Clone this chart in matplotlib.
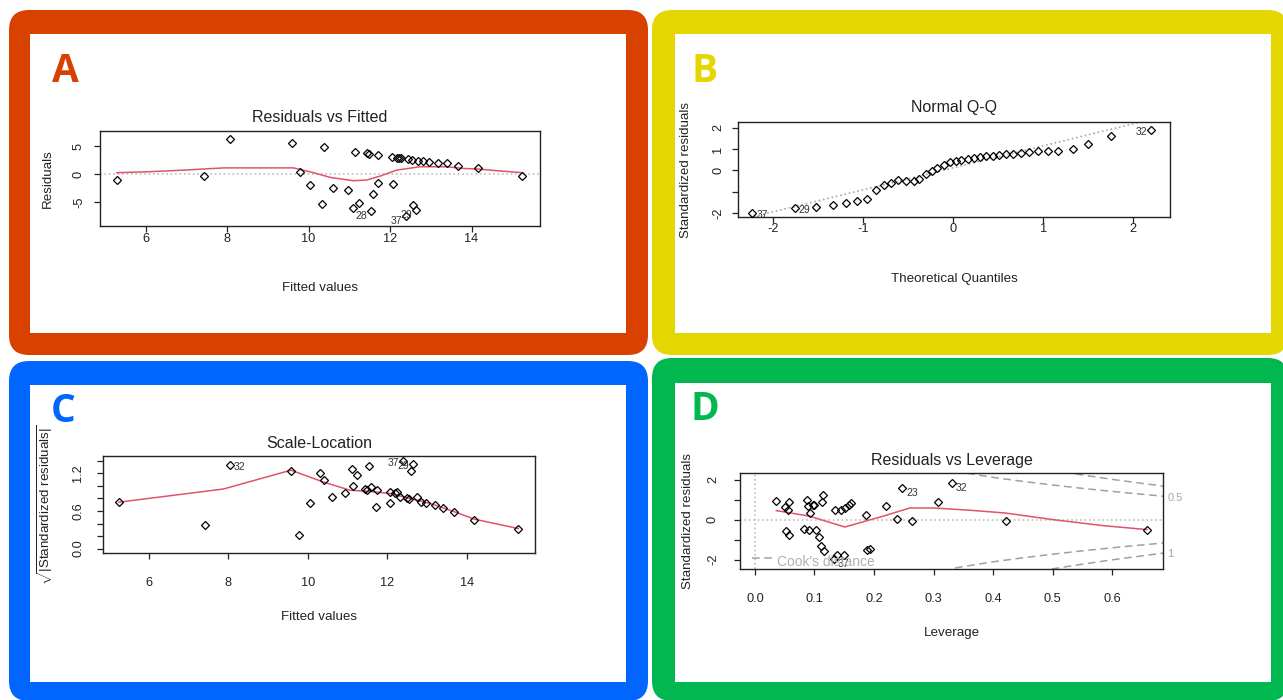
import matplotlib
matplotlib.use('Agg')
import matplotlib.pyplot as plt
from matplotlib import font_manager
from matplotlib.patches import FancyBboxPatch, Rectangle

W, H = 1283, 700

# ---- data ----
# A: Residuals vs Fitted
a_fitted = [5.29, 7.44, 8.06, 9.59, 9.80, 10.04, 10.33, 10.39, 10.61, 10.96, 11.10, 11.14,
            11.24, 11.44, 11.49, 11.53, 11.57, 11.71, 11.71, 12.04, 12.06, 12.16, 12.22,
            12.28, 12.45, 12.55, 12.69, 12.82, 12.96, 13.18, 13.39, 13.66, 14.16, 15.25,
            12.57, 12.63, 12.39]
a_resid = [-1.07, -0.36, 6.19, 5.60, 0.30, -1.90, -5.36, 4.76, -2.50, -2.86, -6.13, 3.99,
           -5.12, 3.81, 3.57, -6.55, -3.51, 3.39, -1.67, 2.98, -1.85, 2.95, 2.90,
           2.80, 2.68, 2.50, 2.38, 2.38, 2.20, 2.02, 1.90, 1.43, 1.00, -0.36,
           -5.54, -6.40, -7.44]
a_smooth_x = [5.29, 6.04, 6.94, 7.92, 9.63, 10.12, 10.53, 11.10, 11.43, 11.76, 12.16,
              12.73, 13.39, 13.80, 14.16, 14.61, 15.25]
a_smooth_y = [0.24, 0.40, 0.70, 1.10, 1.10, 0.24, -0.60, -1.20, -1.07, -0.36, 0.70,
              1.30, 1.30, 1.00, 0.90, 0.60, 0.24]
a_ids = ['28', '29', '37']
a_id_x = [11.53, 12.63, 12.39]
a_id_y = [-6.55, -6.40, -7.44]

# B: Normal Q-Q
b_theo = [-2.23, -1.76, -1.52, -1.33, -1.19, -1.07, -0.96, -0.86, -0.77, -0.69, -0.61,
          -0.52, -0.44, -0.38, -0.30, -0.24, -0.18, -0.10, -0.04, 0.03, 0.09, 0.16,
          0.23, 0.30, 0.37, 0.44, 0.51, 0.59, 0.67, 0.75, 0.84, 0.94, 1.05, 1.17,
          1.33, 1.50, 1.75, 2.20]
b_std = [-2.00, -1.77, -1.72, -1.61, -1.52, -1.45, -1.33, -0.91, -0.70, -0.59, -0.47,
         -0.50, -0.50, -0.39, -0.16, -0.03, 0.09, 0.23, 0.38, 0.44, 0.50, 0.55,
         0.59, 0.64, 0.66, 0.69, 0.70, 0.75, 0.78, 0.81, 0.86, 0.92, 0.91, 0.92,
         1.02, 1.25, 1.61, 1.88]
b_line_x = [-2.40, 2.45]
b_line_y = [-2.36, 2.65]
b_ids = ['37', '29', '32']
b_id_x = [-2.23, -1.76, 2.20]
b_id_y = [-2.00, -1.77, 1.88]

# C: Scale-Location
c_fitted = [5.25, 7.42, 8.04, 9.58, 9.79, 10.05, 10.31, 10.40, 10.61, 10.94, 11.11, 11.15,
            11.25, 11.44, 11.50, 11.55, 11.59, 11.72, 11.74, 12.06, 12.06, 12.20, 12.24,
            12.32, 12.41, 12.49, 12.56, 12.74, 12.84, 12.98, 13.20, 13.41, 13.68, 14.19,
            15.30, 12.60, 12.66]
c_sqrt = [0.74, 0.38, 1.34, 1.23, 0.22, 0.73, 1.21, 1.09, 0.82, 0.88, 1.27, 1.00,
          1.18, 0.95, 0.93, 1.32, 0.98, 0.67, 0.93, 0.90, 0.73, 0.88, 0.91,
          0.82, 1.395, 0.81, 0.79, 0.82, 0.75, 0.72, 0.70, 0.65, 0.59, 0.46,
          0.32, 1.23, 1.35]
c_smooth_x = [5.25, 7.88, 9.58, 10.40, 11.07, 11.57, 12.06, 12.57, 13.08, 13.68, 14.19, 15.30]
c_smooth_y = [0.74, 0.95, 1.25, 1.06, 0.93, 0.91, 0.88, 0.80, 0.72, 0.59, 0.47, 0.32]
c_ids = ['32', '37', '29']
c_id_x = [8.04, 12.41, 12.66]
c_id_y = [1.34, 1.395, 1.35]

# D: Residuals vs Leverage
d_lev = [0.036, 0.050, 0.056, 0.058, 0.052, 0.058, 0.082, 0.087, 0.089, 0.091, 0.093,
         0.098, 0.100, 0.102, 0.108, 0.112, 0.115, 0.111, 0.116, 0.134, 0.145, 0.152,
         0.158, 0.162, 0.133, 0.137, 0.149, 0.186, 0.188, 0.193, 0.220, 0.238, 0.247,
         0.263, 0.308, 0.330, 0.422, 0.658]
d_std = [0.92, 0.62, 0.50, 0.90, -0.58, -0.75, -0.47, 1.00, 0.67, -0.50, 0.33,
         0.75, 0.75, -0.50, -0.88, 0.87, 1.25, -1.33, -1.55, 0.47, 0.50, 0.58,
         0.75, 0.83, -1.97, -1.75, -1.75, 0.22, -1.50, -1.47, 0.70, 0.05, 1.58,
         -0.05, 0.87, 1.83, -0.08, -0.50]
d_smooth_x = [0.036, 0.092, 0.151, 0.215, 0.260, 0.300, 0.360, 0.420, 0.500, 0.584, 0.658]
d_smooth_y = [0.45, 0.17, -0.37, 0.17, 0.58, 0.58, 0.47, 0.33, 0.00, -0.30, -0.50]
d_ids = ['23', '32', '37']
d_id_x = [0.247, 0.330, 0.133]
d_id_y = [1.58, 1.83, -1.97]
# Cook's distance contours
cook05_x = [0.336, 0.364, 0.40, 0.45, 0.50, 0.55, 0.62, 0.70]
cook05_y = [2.42, 2.28, 2.11, 1.91, 1.73, 1.56, 1.35, 1.13]
cook1_x = [0.498, 0.53, 0.55, 0.60, 0.64, 0.70]
cook1_y = [2.47, 2.32, 2.23, 2.01, 1.85, 1.62]

RED = '#DF536B'
GRAY = '#BEBEBE'
INK = '#222222'

TITLE_SIZE = 11.5
LABEL_SIZE = 9.6
TICK_SIZE = 9.2
ID_SIZE = 7.5


def pick_font(names):
    for n in names:
        try:
            font_manager.findfont(n, fallback_to_default=False)
            return n
        except Exception:
            pass
    return 'DejaVu Sans'


PLOT_FONT = pick_font(['Liberation Sans Narrow', 'Liberation Sans'])
LETTER_FONT = pick_font(['Open Sans', 'Lato'])
plt.rcParams['font.family'] = [PLOT_FONT, 'DejaVu Sans']
plt.rcParams['mathtext.fontset'] = 'custom'
plt.rcParams['mathtext.rm'] = PLOT_FONT
plt.rcParams['mathtext.it'] = PLOT_FONT

fig = plt.figure(figsize=(W / 100, H / 100), dpi=100)
fig.patch.set_facecolor('white')

# background layer with the coloured frames
bg = fig.add_axes([0, 0, 1, 1], zorder=-10)
bg.set_xlim(0, W)
bg.set_ylim(H, 0)
bg.axis('off')


def frame(outer, inner, color, letter, letter_xy, r=20):
    x0, y0, x1, y1 = outer
    bg.add_patch(FancyBboxPatch((x0 + r, y0 + r), x1 - x0 - 2 * r, y1 - y0 - 2 * r,
                                boxstyle=f'round,pad={r}', fc=color, ec='none'))
    ix0, iy0, ix1, iy1 = inner
    bg.add_patch(Rectangle((ix0, iy0), ix1 - ix0, iy1 - iy0, fc='white', ec='none'))
    bg.text(letter_xy[0], letter_xy[1], letter, color=color, fontsize=28,
            fontweight='bold', family=LETTER_FONT, ha='center', va='center')


frame((9, 10, 648, 355), (30, 34, 626, 333), '#D94100', 'A', (65, 71))
frame((652, 10, 1288, 355), (675, 34, 1271, 333), '#E4D600', 'B', (705, 71))
frame((9, 361, 648, 701), (30, 385, 626, 682), '#0066FF', 'C', (63, 412))
frame((652, 358, 1288, 701), (675, 383, 1271, 682), '#00B84F', 'D', (705, 410))


def panel(box, title, xlabel, ylabel, title_y, xtl_y, xlab_y, ytl_x, ylab_x,
          xlim, ylim, xticks, xticklabels, yticks, yticklabels):
    l, t, r, b = box
    w, h = r - l, b - t
    ax = fig.add_axes([l / W, 1 - b / H, w / W, h / H])
    ax.set_xlim(*xlim)
    ax.set_ylim(*ylim)
    for s in ax.spines.values():
        s.set_linewidth(1.0)
        s.set_color(INK)
    tl = 6
    ax.set_xticks(xticks, xticklabels)
    ax.set_yticks(yticks, yticklabels)
    ax.tick_params(length=tl * 0.72, width=0.9, color=INK, labelsize=TICK_SIZE,
                   labelcolor=INK)
    # text boxes include the descender, so shift the centres a touch
    ax.tick_params(axis='x', pad=(xtl_y + 1.5 - b - tl) * 0.72)
    ax.tick_params(axis='y', pad=(l - ytl_x - 1 - tl) * 0.72)
    for lab in ax.get_xticklabels():
        lab.set_va('center')
    for lab in ax.get_yticklabels():
        lab.set_rotation(90)
        lab.set_ha('center')
        lab.set_va('center')
    ax.text(0.5, 1 + (t - title_y) / h, title, transform=ax.transAxes,
            ha='center', va='center', fontsize=TITLE_SIZE, color=INK)
    ax.set_xlabel(xlabel, fontsize=LABEL_SIZE, va='center', color=INK)
    ax.xaxis.set_label_coords(0.5, -(xlab_y - b) / h)
    ax.set_ylabel(ylabel, fontsize=LABEL_SIZE, va='center', color=INK)
    ax.yaxis.set_label_coords(-(l - ylab_x) / w, 0.5)
    return ax


def points(ax, x, y):
    ax.plot(x, y, ls='none', marker='D', ms=4.5, mfc='none', mec='black', mew=0.9, zorder=3)


def ids(ax, labels, xs, ys, side, dy=-5):
    for lab, x, y, sd in zip(labels, xs, ys, side):
        dx = 4 if sd == 'r' else -4
        ax.annotate(lab, (x, y), xytext=(dx, dy), textcoords='offset pixels',
                    ha='left' if sd == 'r' else 'right', va='center',
                    fontsize=ID_SIZE, color='#333333', annotation_clip=False)


# ---- A ----
axA = panel((100, 131, 540, 226), 'Residuals vs Fitted', 'Fitted values', 'Residuals',
            117, 237, 288, 78, 48, (4.88, 15.68), (-9.3, 7.7),
            [6, 8, 10, 12, 14], ['6', '8', '10', '12', '14'], [-5, 0, 5], ['-5', '0', '5'])
axA.axhline(0, color=GRAY, ls=':', lw=1.2)
axA.plot(a_smooth_x, a_smooth_y, color=RED, lw=1.1)
points(axA, a_fitted, a_resid)
ids(axA, a_ids, a_id_x, a_id_y, ['l', 'l', 'l'])

# ---- B ----
axB = panel((738, 122, 1170, 217), 'Normal Q-Q', 'Theoretical Quantiles',
            'Standardized residuals', 107, 227, 279, 717, 686, (-2.39, 2.41), (-2.19, 2.27),
            [-2, -1, 0, 1, 2], ['-2', '-1', '0', '1', '2'],
            [-2, -1, 0, 1, 2], ['-2', '', '0', '1', '2'])
axB.plot(b_line_x, b_line_y, color='#A8A8A8', ls=':', lw=1.2)
points(axB, b_theo, b_std)
ids(axB, b_ids, b_id_x, b_id_y, ['r', 'r', 'l'], dy=-2)

# ---- C ----
axC = panel((103, 456, 535, 553), 'Scale-Location', 'Fitted values',
            r'$\sqrt{|\mathrm{Standardized\ residuals}|}$', 444, 582, 617, 77, 45,
            (4.85, 15.72), (-0.07, 1.476),
            [6, 8, 10, 12, 14], ['6', '8', '10', '12', '14'],
            [0.0, 0.2, 0.4, 0.6, 0.8, 1.0, 1.2, 1.4], ['0.0', '', '', '0.6', '', '', '1.2', ''])
axC.plot(c_smooth_x, c_smooth_y, color=RED, lw=1.1)
points(axC, c_fitted, c_sqrt)
ids(axC, c_ids, c_id_x, c_id_y, ['r', 'l', 'l'], dy=-2)

# ---- D ----
axD = panel((740, 473, 1163, 569), 'Residuals vs Leverage', 'Leverage',
            'Standardized residuals', 461, 597, 633, 712, 688, (-0.025, 0.685), (-2.47, 2.33),
            [0.0, 0.1, 0.2, 0.3, 0.4, 0.5, 0.6], ['0.0', '0.1', '0.2', '0.3', '0.4', '0.5', '0.6'],
            [-2, -1, 0, 1, 2], ['-2', '', '0', '', '2'])
axD.axhline(0, color=GRAY, ls=':', lw=1.2)
axD.axvline(0, color=GRAY, ls=':', lw=1.2)
axD.plot(d_smooth_x, d_smooth_y, color=RED, lw=1.1)
for cx, cy in ((cook05_x, cook05_y), (cook1_x, cook1_y)):
    axD.plot(cx, cy, color='#A0A0A0', ls=(0, (5, 3)), lw=1.1)
    axD.plot(cx, [-v for v in cy], color='#A0A0A0', ls=(0, (5, 3)), lw=1.1)
points(axD, d_lev, d_std)
ids(axD, d_ids, d_id_x, d_id_y, ['r', 'r', 'r'])
ytr = axD.get_yaxis_transform()
axD.text(1.01, 1.08, '0.5', transform=ytr, ha='left', va='center', fontsize=8,
         color='#A8A8A8', clip_on=False)
axD.text(1.01, -1.72, '1', transform=ytr, ha='left', va='center', fontsize=8,
         color='#A8A8A8', clip_on=False)
axD.plot([0.028, 0.078], [0.115, 0.115], transform=axD.transAxes, color='#A0A0A0',
         ls=(0, (5, 3)), lw=1.1)
axD.text(0.087, 0.075, "Cook's distance", transform=axD.transAxes, ha='left', va='center',
         fontsize=10, color='#B0B0B0')

fig.savefig('out.png', dpi=100)
